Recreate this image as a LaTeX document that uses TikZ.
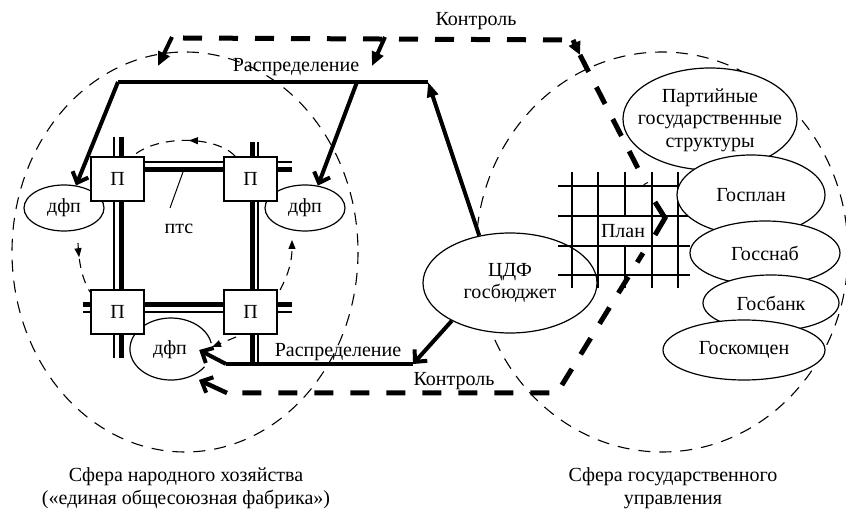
\documentclass[tikz,border=0pt]{standalone}
\usepackage{fontspec}
\setmainfont{Liberation Serif}
\usetikzlibrary{arrows.meta,shapes.geometric,decorations.markings}
\begin{document}
\begin{tikzpicture}[x=1pt,y=-1pt,
  every node/.style={font=\fontsize{20}{22.5}\selectfont},
  sphere/.style={line width=1.1pt, dash pattern=on 12pt off 9pt},
  ell/.style={ellipse, draw, line width=1.2pt, fill=white, inner sep=0pt},
  pbox/.style={rectangle, draw, line width=1.2pt, fill=white, minimum width=53pt, minimum height=44pt, inner sep=0pt},
  pipethick/.style={line width=5pt},
  pipethin/.style={line width=1.3pt},
  circ/.style={line width=1.1pt, dash pattern=on 9pt off 7pt},
  midarrow/.style={postaction={decorate}, decoration={markings, mark=at position #1 with {\arrow{Triangle[length=9pt,width=7pt]}}}},
  dist/.style={line width=4pt},
  ctrl/.style={line width=5pt, dash pattern=on 19pt off 17pt},
  barb/.style={-{Straight Barb[length=9pt,width=17pt,line width=4pt]}},
  tri/.style={-{Triangle[length=14pt,width=12pt]}},
  smalltri/.style={-{Triangle[length=9pt,width=7pt]}},
  gridline/.style={line width=1.4pt},
  lbl/.style={inner sep=0pt}
]
\useasboundingbox (0,0) rectangle (846,510);

% spheres
\draw[sphere] (185,252) ellipse [x radius=173, y radius=200];
\draw[sphere] (662,252) ellipse [x radius=186, y radius=200];

% pipes
\draw[pipethin] (117,162) -- (292,162);
\draw[pipethick] (117,170) -- (292,170);
\draw[pipethick] (83,305) -- (292,305);
\draw[pipethin] (83,312) -- (292,312);
\draw[pipethin] (114,137) -- (114,358);
\draw[pipethick] (121,137) -- (121,358);
\draw[pipethick] (252,142) -- (252,365);
\draw[pipethin] (258,142) -- (258,365);

% dfp
\node[ell, minimum width=80pt, minimum height=46pt] (dfpA) at (64,208) {дфп};
\node[ell, minimum width=80pt, minimum height=46pt] (dfpB) at (305,208) {дфп};
\node[lbl, minimum width=58pt] (dfpC) at (170,350) {дфп};
\draw[line width=1.2pt] (211.2,343.1) arc [start angle=-11, end angle=-325, x radius=41, y radius=31];

% boxes
\node[pbox] (p1) at (117.5,179) {П};
\node[pbox] (p2) at (250.5,179) {П};
\node[pbox] (p3) at (117.5,312) {П};
\node[pbox] (p4) at (250.5,312) {П};

% ptc
\node[lbl] (ptc) at (179,229) {птс};
\coordinate (ptcA) at (183,172);
\coordinate (ptcB) at (170,208);
\draw[line width=1pt] (ptcA) -- (ptcB);

% circulation
\coordinate (c1) at (235,156);
\coordinate (c2) at (132,157);
\draw[circ, midarrow=0.45] (c1) .. controls (215,135) and (155,135) .. (c2);
\coordinate (c3) at (78,243);
\coordinate (c4) at (90,292);
\draw[circ, midarrow=0.28] (c3) .. controls (79,268) and (84,282) .. (c4);
\coordinate (c5) at (280,290);
\coordinate (c6) at (292,240);
\draw[circ, smalltri] (c5) .. controls (288,275) and (292,262) .. (c6);
\coordinate (c7) at (236,337);
\coordinate (c8) at (212,347);
\draw[circ, smalltri] (c7) -- (c8);

% CDF
\node[ell, minimum width=174pt, minimum height=100pt, align=center] (cdf) at (510,283) {ЦДФ\\госбюджет};

% distribution
\coordinate (rA) at (118,82);
\coordinate (rB) at (357,82);
\coordinate (rC) at (428,82);
\draw[dist] (rA) -- (rC);
\draw[dist, -{Triangle[length=15pt,width=11pt]}] (cdf.123) -- (rC);
\draw[dist, barb] (rA) -- (dfpA.62);
\draw[dist, barb] (rB) -- (dfpB.60);
\coordinate (bB) at (413,364);
\coordinate (bA) at (226,364);
\draw[dist, barb] (cdf.213) -- (bB);
\draw[dist] (bB) -- (bA);
\draw[dist, barb] (bA) -- (dfpC.east);

% grid
\foreach \gx in {572,598,625,652,678} \draw[gridline] (\gx,172) -- (\gx,288);
\foreach \gy in {186,216,246,275} \draw[gridline] (558,\gy) -- (690,\gy);
\node[fill=white, inner xsep=2pt, inner ysep=0pt, minimum height=28pt] (plan) at (623,231) {План};

% right ellipses
\node[ell, minimum width=174pt, minimum height=102pt] (party) at (710,119) {};
\node[lbl, align=center] (partyT) at (710,120) {Партийные\\государственные\\структуры};
\node[ell, minimum width=148pt, minimum height=80pt] (gosplan) at (751,195) {Госплан};
\node[ell, minimum width=150pt, minimum height=64pt] (gossnab) at (765,253) {Госснаб};
\node[ell, minimum width=136pt, minimum height=56pt] (gosbank) at (771,303) {Госбанк};
\node[ell, minimum width=162pt, minimum height=60pt] (goskom) at (744,350) {Госкомцен};

% control (thick dashed)
\coordinate (kTL) at (183,38);
\coordinate (kTR) at (573,40);
\coordinate (kTR2) at (580,55);
\coordinate (kK0) at (646,184);
\coordinate (kK1) at (655,202);
\coordinate (kK2) at (665,218);
\coordinate (kK3) at (655,235);
\coordinate (kK4) at (643,253);
\coordinate (kBR) at (557,393);
\coordinate (kBL) at (227,393);
\coordinate (kTip) at (199,380);
\draw[ctrl] (kTL) -- (kTR);
\draw[line width=5pt, -{Triangle[length=13pt,width=12pt]}] (kTR) -- (kTR2);
\draw[ctrl] (kTR2) -- (kK0);
\draw[line width=5pt, line join=miter] (kK1) -- (kK2) -- (kK3);
\draw[ctrl, dash phase=8pt] (kK4) -- (kBR) -- (kBL);
\draw[line width=4.5pt, barb] (kBL) -- (kTip);
\coordinate (kA1) at (172,37);
\coordinate (kA2) at (158,66);
\coordinate (kB1) at (385,37);
\coordinate (kB2) at (372,66);
\draw[line width=4pt, tri] (kA1) -- (kA2);
\draw[line width=4pt, tri] (kB1) -- (kB2);

% labels
\node[lbl, anchor=base] (lR1) at (296,72) {Распределение};
\node[lbl, anchor=base] (lR2) at (338,357) {Распределение};
\node[lbl, anchor=base] (lK1) at (476,26) {Контроль};
\node[lbl, anchor=base] (lK2) at (454,386) {Контроль};
\node[lbl, align=center] (s1) at (186,488) {Сфера народного хозяйства\\(«единая общесоюзная фабрика»)};
\node[lbl, align=center] (s2) at (673,488) {Сфера государственного\\управления};
\end{tikzpicture}
\end{document}
